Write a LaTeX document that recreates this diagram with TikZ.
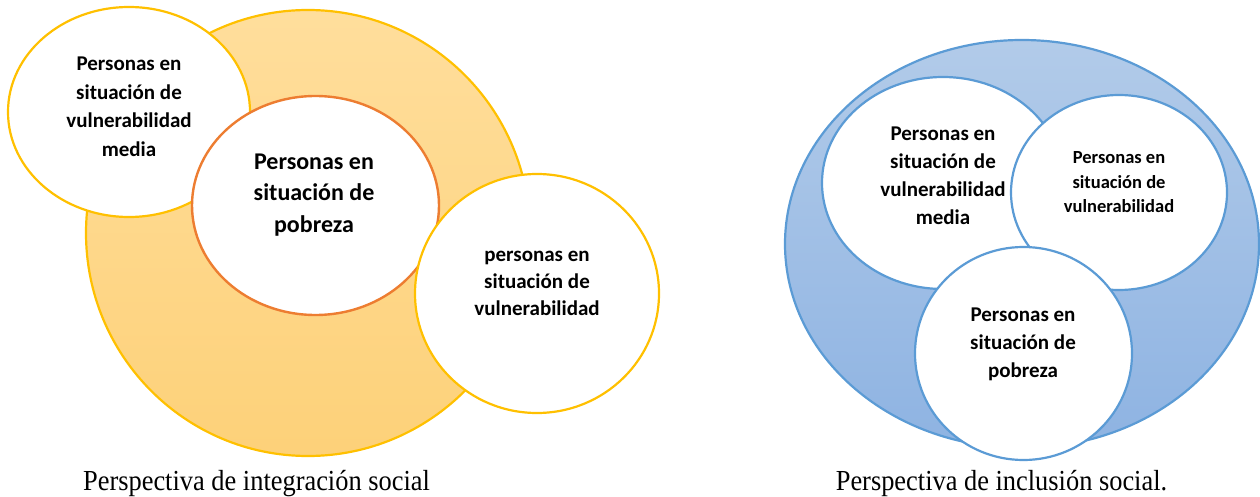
\documentclass[tikz,border=0pt]{standalone}
\usepackage{fontspec}
\setmainfont{Liberation Serif}
\newfontfamily\calibri{Carlito}
\usetikzlibrary{shapes.geometric}
\definecolor{goldline}{HTML}{FFC000}
\definecolor{orangeline}{HTML}{ED7D31}
\definecolor{orangetop}{HTML}{FFDE9C}
\definecolor{orangebot}{HTML}{FDD179}
\definecolor{blueline}{HTML}{5B9BD5}
\definecolor{bluetop}{HTML}{B2CBE9}
\definecolor{bluebot}{HTML}{8EB3E2}
\tikzset{
  bubble/.style={ellipse, inner sep=0pt, outer sep=0pt, line width=2.2pt, fill=white},
  bubtext/.style={align=center, inner sep=0pt, font=\calibri\bfseries},
  caption/.style={anchor=base, inner sep=0pt, font=\fontsize{26.4}{30}\selectfont}
}
\begin{document}
\begin{tikzpicture}[x=1pt,y=-1pt]
\useasboundingbox (0,0) rectangle (1260,497);
% ---------- left diagram ----------
\node[bubble, minimum width=444pt, minimum height=446pt, draw=goldline,
      top color=orangetop, bottom color=orangebot] (bigL) at (308,233) {};
\node[bubble, minimum width=242pt, minimum height=210pt, draw=goldline] (mediaL) at (129,112) {};
\node[bubble, minimum width=247pt, minimum height=219pt, draw=orangeline, line width=2.4pt] (pobL) at (315.5,205.5) {};
\node[bubble, minimum width=244pt, minimum height=239pt, draw=goldline] (vulnL) at (537,293.5) {};
\node[bubtext, font=\calibri\bfseries\fontsize{21}{28.5}\selectfont] (tmediaL) at (129,107)
  {Personas en\\situación de\\vulnerabilidad\\media};
\node[bubtext, font=\calibri\bfseries\fontsize{24}{31.5}\selectfont] (tpobL) at (314,195)
  {Personas en\\situación de\\pobreza};
\node[bubtext, font=\calibri\bfseries\fontsize{21}{27}\selectfont] (tvulnL) at (537,283)
  {personas en\\situación de\\vulnerabilidad};
\node[caption] (capL) at (256.5,490) {\scalebox{1}[1.1]{Perspectiva de integración social}};
% ---------- right diagram ----------
\node[bubble, minimum width=474pt, minimum height=408pt, draw=blueline,
      top color=bluetop, bottom color=bluebot] (bigR) at (1022,244) {};
\node[bubble, minimum width=242pt, minimum height=212pt, draw=blueline] (mediaR) at (943,183) {};
\node[bubble, minimum width=216pt, minimum height=195pt, draw=blueline] (vulnR) at (1119,192.5) {};
\node[bubble, minimum width=217pt, minimum height=213pt, draw=blueline] (pobR) at (1023.5,353.5) {};
\node[bubtext, font=\calibri\bfseries\fontsize{21}{28}\selectfont] (tmediaR) at (943,176)
  {Personas en\\situación de\\vulnerabilidad\\media};
\node[bubtext, font=\calibri\bfseries\fontsize{18.5}{24.5}\selectfont] (tvulnR) at (1119,182.5)
  {Personas en\\situación de\\vulnerabilidad};
\node[bubtext, font=\calibri\bfseries\fontsize{21}{28}\selectfont] (tpobR) at (1023,344)
  {Personas en\\situación de\\pobreza};
\node[caption] (capR) at (1001.5,490) {\scalebox{1}[1.1]{Perspectiva de inclusión social.}};
\end{tikzpicture}
\end{document}
